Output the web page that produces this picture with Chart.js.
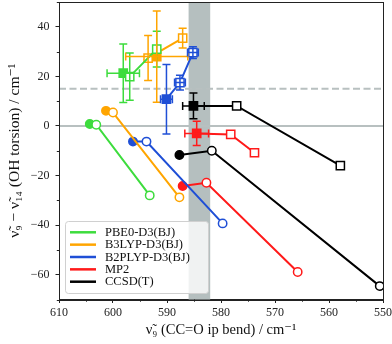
<!DOCTYPE html>
<html>
<head>
<meta charset="utf-8">
<script src="https://cdn.jsdelivr.net/npm/chart.js@4.4.0/dist/chart.umd.min.js"></script>
<style>
  html, body { margin: 0; padding: 0; background: #fff; }
</style>
</head>
<body>
<canvas id="chart" width="392" height="344"></canvas>
<script>
// ---- data ----
const methods = ['PBE0-D3(BJ)', 'B3LYP-D3(BJ)', 'B2PLYP-D3(BJ)', 'MP2', 'CCSD(T)'];
const colors  = ['#3ddc3d', '#ffa500', '#1f4fd6', '#ff1a1a', '#000000'];

// circles: filled -> open -> open
const circX = [[604.3, 603.1, 593.2], [601.3, 600.0, 587.7], [596.3, 593.8, 579.7], [587.1, 582.7, 565.8], [587.7, 581.7, 550.6]];
const circY = [[0.8, 0.5, -28.0], [6.1, 5.4, -28.8], [-6.3, -6.3, -39.3], [-24.2, -22.9, -58.9], [-11.7, -10.0, -64.6]];

// squares: filled -> open -> open
const sqX = [[598.1, 596.9, 591.9], [591.9, 593.5, 587.1], [590.1, 587.6, 585.2], [584.5, 578.2, 573.8], [585.1, 577.1, 557.9]];
const sqY = [[21.3, 19.9, 31.0], [28.0, 27.4, 35.4], [10.8, 17.5, 29.6], [-3.0, -3.4, -10.8], [8.1, 8.1, -16.0]];
const sqXErr = [[3.0, 0, 0], [5.75, 0, 0], [1.1, 1.0, 1.0], [2.2, 0, 0], [2.0, 0, 0]];
const sqYErr = [[11.8, 9.5, 7.2], [18.4, 9.1, 4.0], [14.0, 3.0, 2.4], [4.9, 0, 0], [5.2, 0, 0]];

const bandRange = [586, 582];
const dashedY = 15;
const zeroY = 0;
const xTicks = [610, 600, 590, 580, 570, 560, 550];
const yTicks = [-60, -40, -20, 0, 20, 40];

const serif = "'Liberation Serif', 'DejaVu Serif', serif";

// ---- datasets ----
const datasets = [];
methods.forEach((m, i) => {
    const mk = (xs, ys, style, r) => ({
        label: m,
        data: xs.map((x, j) => ({ x: x, y: ys[j] })),
        showLine: true,
        borderColor: colors[i],
        borderWidth: 2,
        pointStyle: style,
        pointRadius: r,
        pointBorderWidth: 1.5,
        pointBorderColor: colors[i],
        pointBackgroundColor: xs.map((_, j) => j === 0 ? colors[i] : '#ffffff'),
        errX: style === 'rect' ? sqXErr[i] : null,
        errY: style === 'rect' ? sqYErr[i] : null
    });
    datasets.push(mk(circX[i], circY[i], 'circle', 4.2));
    datasets.push(mk(sqX[i], sqY[i], 'rect', 5.8));
});

// ---- plugins ----
const backdrop = {
    id: 'backdrop',
    beforeDatasetsDraw(chart) {
        const { ctx, chartArea: a, scales: { x, y } } = chart;
        ctx.save();
        const x1 = x.getPixelForValue(bandRange[0]), x2 = x.getPixelForValue(bandRange[1]);
        ctx.fillStyle = 'rgb(181,191,191)';
        ctx.fillRect(Math.min(x1, x2), a.top, Math.abs(x2 - x1), a.bottom - a.top);

        ctx.strokeStyle = 'rgb(184,192,192)';
        ctx.lineWidth = 2;
        let py = y.getPixelForValue(zeroY);
        ctx.beginPath(); ctx.moveTo(a.left, py); ctx.lineTo(a.right, py); ctx.stroke();
        py = y.getPixelForValue(dashedY);
        ctx.setLineDash([7, 3.5]);
        ctx.beginPath(); ctx.moveTo(a.left, py); ctx.lineTo(a.right, py); ctx.stroke();
        ctx.restore();
    }
};

const errorBars = {
    id: 'errorBars',
    afterDatasetsDraw(chart) {
        const { ctx, scales: { x, y } } = chart;
        ctx.save();
        ctx.lineWidth = 1.5;
        chart.data.datasets.forEach(ds => {
            if (!ds.errX) return;
            ctx.strokeStyle = ds.borderColor;
            ds.data.forEach((p, j) => {
                const px = x.getPixelForValue(p.x), py = y.getPixelForValue(p.y);
                const cap = 4;
                if (ds.errY[j] > 0) {
                    const t = y.getPixelForValue(p.y + ds.errY[j]), b = y.getPixelForValue(p.y - ds.errY[j]);
                    ctx.beginPath();
                    ctx.moveTo(px, t); ctx.lineTo(px, b);
                    ctx.moveTo(px - cap, t); ctx.lineTo(px + cap, t);
                    ctx.moveTo(px - cap, b); ctx.lineTo(px + cap, b);
                    ctx.stroke();
                }
                if (ds.errX[j] > 0) {
                    const l = x.getPixelForValue(p.x + ds.errX[j]), r = x.getPixelForValue(p.x - ds.errX[j]);
                    ctx.beginPath();
                    ctx.moveTo(l, py); ctx.lineTo(r, py);
                    ctx.moveTo(l, py - cap); ctx.lineTo(l, py + cap);
                    ctx.moveTo(r, py - cap); ctx.lineTo(r, py + cap);
                    ctx.stroke();
                }
            });
        });
        ctx.restore();
    }
};

const frameAndLegend = {
    id: 'frameAndLegend',
    afterDraw(chart) {
        const { ctx, chartArea: a, scales: { x, y } } = chart;
        ctx.save();
        // minor ticks
        ctx.strokeStyle = '#222';
        ctx.lineWidth = 1;
        ctx.beginPath();
        for (let v = 605; v >= 555; v -= 10) {
            const px = Math.round(x.getPixelForValue(v)) + 0.5;
            ctx.moveTo(px, a.bottom); ctx.lineTo(px, a.bottom + 2.2);
        }
        for (let v = -70; v <= 50; v += 20) {
            const py = Math.round(y.getPixelForValue(v)) + 0.5;
            ctx.moveTo(a.left, py); ctx.lineTo(a.left - 2.2, py);
        }
        ctx.stroke();
        // frame
        ctx.strokeRect(Math.round(a.left) + 0.5, Math.round(a.top) + 0.5,
            Math.round(a.right - a.left), Math.round(a.bottom - a.top));

        // legend
        const bx = 65.5, by = 221.5, bw = 143, bh = 72;
        ctx.fillStyle = 'rgba(255,255,255,0.8)';
        ctx.strokeStyle = '#d0d0d0';
        ctx.beginPath();
        ctx.roundRect(bx, by, bw, bh, 3);
        ctx.fill(); ctx.stroke();
        ctx.font = '12.5px ' + serif;
        ctx.textBaseline = 'middle';
        methods.forEach((m, i) => {
            const ry = 232.3 + i * 12.35;
            ctx.strokeStyle = colors[i];
            ctx.lineWidth = 2.5;
            ctx.beginPath(); ctx.moveTo(70, ry); ctx.lineTo(96, ry); ctx.stroke();
            ctx.fillStyle = '#111';
            ctx.fillText(m, 105, ry + 0.5);
        });
        ctx.restore();
    }
};

const zeroPad = s => { s.paddingTop = 0; s.paddingBottom = 0; s.paddingLeft = 0; s.paddingRight = 0; };

new Chart(document.getElementById('chart'), {
    type: 'scatter',
    data: { datasets: datasets },
    plugins: [backdrop, errorBars, frameAndLegend],
    options: {
        responsive: false,
        animation: false,
        layout: { autoPadding: false, padding: { top: 2, right: 9, left: 0, bottom: 0 } },
        plugins: { legend: { display: false }, tooltip: { enabled: false } },
        scales: {
            x: {
                type: 'linear', reverse: true, min: 550, max: 610,
                afterBuildTicks: s => { s.ticks = xTicks.map(v => ({ value: v })); },
                afterFit: s => { s.height = 44.5; zeroPad(s); },
                grid: { drawOnChartArea: false, tickLength: 3.5, tickColor: '#222' },
                border: { color: '#222', width: 1 },
                ticks: { color: '#222', font: { family: serif, size: 12 }, padding: 3, maxRotation: 0 },
                title: { display: true, text: 'ν\u0303\u2089 (CC=O ip bend) / cm\u207b\u00b9', color: '#111',
                         font: { family: serif, size: 14.5 }, padding: { top: 0, bottom: 5 } }
            },
            y: {
                type: 'linear', min: -70, max: 50,
                afterBuildTicks: s => { s.ticks = yTicks.map(v => ({ value: v })); },
                afterFit: s => { s.width = 59; zeroPad(s); },
                grid: { drawOnChartArea: false, tickLength: 3.5, tickColor: '#222' },
                border: { color: '#222', width: 1 },
                ticks: { color: '#222', font: { family: serif, size: 12 }, padding: 6,
                         callback: v => v < 0 ? '\u2212' + Math.abs(v) : String(v) },
                title: { display: true, text: 'ν\u0303\u2089 \u2212 ν\u0303\u2081\u2084 (OH torsion) / cm\u207b\u00b9', color: '#111',
                         font: { family: serif, size: 15.5 }, padding: { top: 6, bottom: 0 } }
            }
        }
    }
});
</script>
</body>
</html>
